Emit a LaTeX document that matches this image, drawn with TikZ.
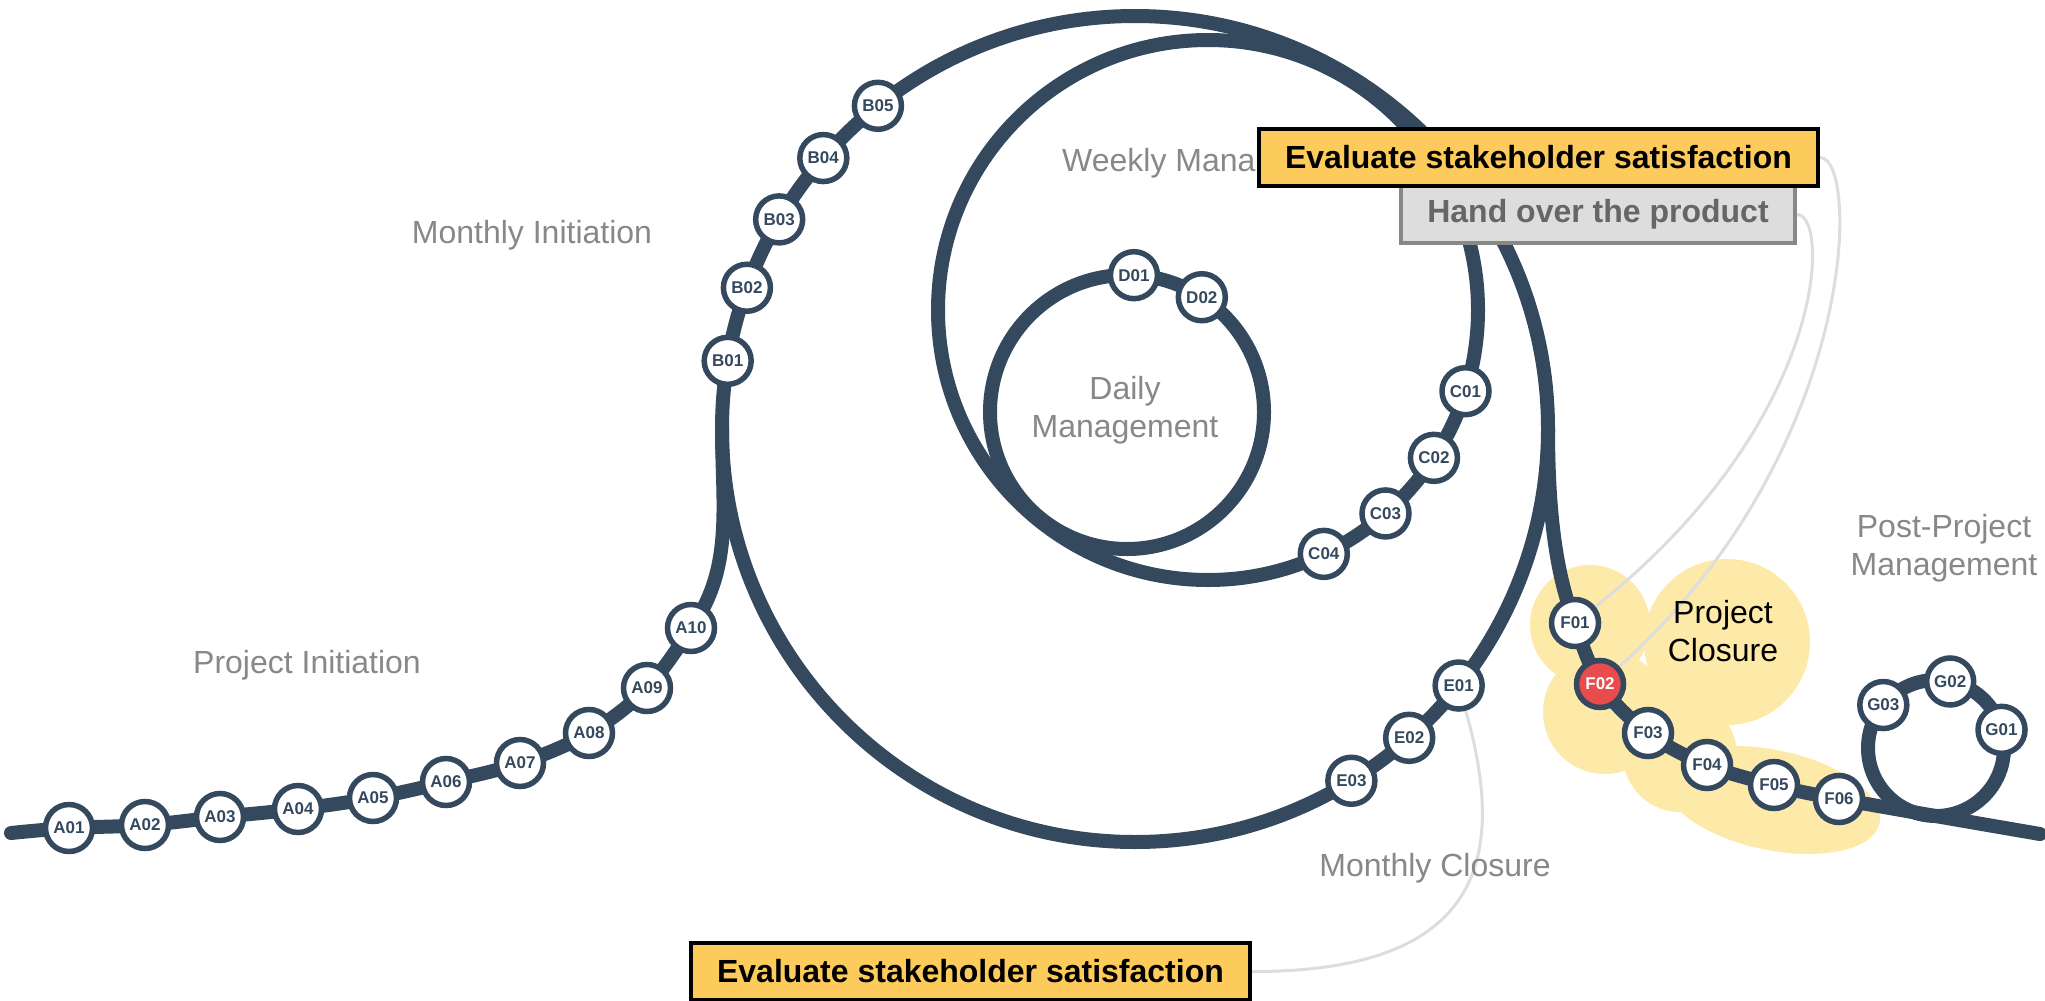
\documentclass[tikz,border=0pt]{standalone}
\usepackage{fontspec}
\setmainfont{Liberation Sans}
\usetikzlibrary{calc}
\definecolor{trackc}{HTML}{34495E}
\definecolor{boxy}{HTML}{FDCB5B}
\definecolor{blobc}{HTML}{FDEAA8}
\definecolor{redc}{HTML}{E84C4C}
\definecolor{labelc}{HTML}{888888}
\definecolor{gboxfill}{HTML}{DDDDDD}
\definecolor{gboxdraw}{HTML}{888888}
\definecolor{gboxtext}{HTML}{666666}
\definecolor{leaderc}{HTML}{DDDDDD}
\pgfdeclarelayer{bg}
\pgfdeclarelayer{tracks}
\pgfsetlayers{bg,tracks,main}
\begin{document}
\begin{tikzpicture}[x=1pt,y=-1pt,
  track/.style={draw=trackc, line width=14pt, line cap=round},
  st/.style={circle, draw=trackc, line width=5.5pt, fill=white, minimum size=47pt, inner sep=0pt, text=trackc, font=\bfseries\fontsize{17}{17}\selectfont},
  stred/.style={st, fill=redc, text=white},
  lbl/.style={text=labelc, font=\fontsize{32}{38}\selectfont, align=center, inner sep=0pt},
  ybox/.style={draw=black, line width=4pt, fill=boxy, minimum width=559pt, minimum height=57pt, inner sep=0pt, font=\bfseries\fontsize{32}{38}\selectfont},
  gbox/.style={draw=gboxdraw, line width=4pt, fill=gboxfill, text=gboxtext, minimum width=394pt, minimum height=57pt, inner sep=0pt, font=\bfseries\fontsize{32}{38}\selectfont},
  leader/.style={draw=leaderc, line width=3pt}
]
\useasboundingbox (0,0) rectangle (2045,1001);
% centres of loops and free ends
\coordinate (Oc) at (1135,429);
\coordinate (Wc) at (1208,310);
\coordinate (Dc) at (1127,412);
\coordinate (Gc) at (1936,748);
\coordinate (startA) at (11,833);
\coordinate (joinL) at (722,429);
\coordinate (joinR) at (1548,429);
\coordinate (endR) at (2040,834);

% text labels
\node[lbl] (tMI) at (532,235) {Monthly Initiation};
\node[lbl, anchor=west] (tWM) at (1062,163) {Weekly Mana};
\node[lbl] (tDM) at (1125,410) {Daily\\Management};
\node[lbl] (tPI) at (307,665) {Project Initiation};
\node[lbl] (tMC) at (1435,868) {Monthly Closure};
\node[lbl] (tPP) at (1944,548) {Post-Project\\Management};
\node[lbl, text=black] (tPC) at (1723,631) {Project\\Closure};

% stations
\node[st] (A01) at (69,828) {A01};
\node[st] (A02) at (145,825) {A02};
\node[st] (A03) at (220,817) {A03};
\node[st] (A04) at (298,809) {A04};
\node[st] (A05) at (373,798) {A05};
\node[st] (A06) at (446,782) {A06};
\node[st] (A07) at (520,763) {A07};
\node[st] (A08) at (589,733) {A08};
\node[st] (A09) at (647,688) {A09};
\node[st] (A10) at (691,628) {A10};
\node[st] (B01) at ($(Oc)+(189.5:413)$) {B01};
\node[st] (B02) at ($(Oc)+(200:413)$) {B02};
\node[st] (B03) at ($(Oc)+(210.5:413)$) {B03};
\node[st] (B04) at ($(Oc)+(221:413)$) {B04};
\node[st] (B05) at ($(Oc)+(231.5:413)$) {B05};
\node[st] (C01) at ($(Wc)+(17.5:270)$) {C01};
\node[st] (C02) at ($(Wc)+(33.2:270)$) {C02};
\node[st] (C03) at ($(Wc)+(48.9:270)$) {C03};
\node[st] (C04) at ($(Wc)+(64.6:270)$) {C04};
\node[st] (D01) at ($(Dc)+(272.9:137)$) {D01};
\node[st] (D02) at ($(Dc)+(303.1:137)$) {D02};
\node[st] (E01) at ($(Oc)+(38.4:413)$) {E01};
\node[st] (E02) at ($(Oc)+(48.4:413)$) {E02};
\node[st] (E03) at ($(Oc)+(58.4:413)$) {E03};
\node[st] (F01) at (1575,623) {F01};
\node[stred] (F02) at (1600,684) {F02};
\node[st] (F03) at (1648,733) {F03};
\node[st] (F04) at (1707,765) {F04};
\node[st] (F05) at (1774,785) {F05};
\node[st] (F06) at (1839,799) {F06};
\node[st] (G01) at ($(Gc)+(344.5:68)$) {G01};
\node[st] (G02) at ($(Gc)+(282:68)$) {G02};
\node[st] (G03) at ($(Gc)+(219.2:68)$) {G03};

% boxes
\node[gbox] (hand) at (1598,214.5) {Hand over the product};
\node[ybox] (eval1) at (1538.5,157.5) {Evaluate stakeholder satisfaction};
\node[ybox] (eval2) at (970.5,971.5) {Evaluate stakeholder satisfaction};

\begin{pgfonlayer}{bg}
  \fill[white] (0,0) rectangle (2045,1001);
  \fill[blobc] (1590,625) circle[radius=60]
               (1727,642) circle[radius=83]
               (1605,712) circle[radius=62]
               (1680,755) circle[radius=57];
  \fill[blobc, rotate around={-12:(1772,800)}] (1772,800) ellipse[x radius=110, y radius=50];
  \draw[leader] (hand.east) .. controls (1830,214) and (1830,420) .. (F01);
  \draw[leader] (eval1.east) .. controls (1860,157) and (1860,450) .. (F02);
  \draw[leader] (eval2.east) .. controls (1490,972) and (1505,850) .. (E01);
\end{pgfonlayer}

\begin{pgfonlayer}{tracks}
  \draw[track] (Oc) circle[radius=413];
  \draw[track] (Wc) circle[radius=270];
  \draw[track] (Dc) circle[radius=137];
  \draw[track] (Gc) circle[radius=68];
  \draw[track] plot[smooth, tension=0.6] coordinates {(startA) (A01.center) (A02.center) (A03.center) (A04.center) (A05.center) (A06.center) (A07.center) (A08.center) (A09.center) (A10.center)}
     .. controls (734,568) and (722,505) .. (joinL);
  \draw[track] (joinR) .. controls (1548,530) and (1560,585) .. (F01.center)
     -- plot[smooth, tension=0.6] coordinates {(F01.center) (F02.center) (F03.center) (F04.center) (F05.center) (F06.center) (endR)};
\end{pgfonlayer}
\end{tikzpicture}
\end{document}
